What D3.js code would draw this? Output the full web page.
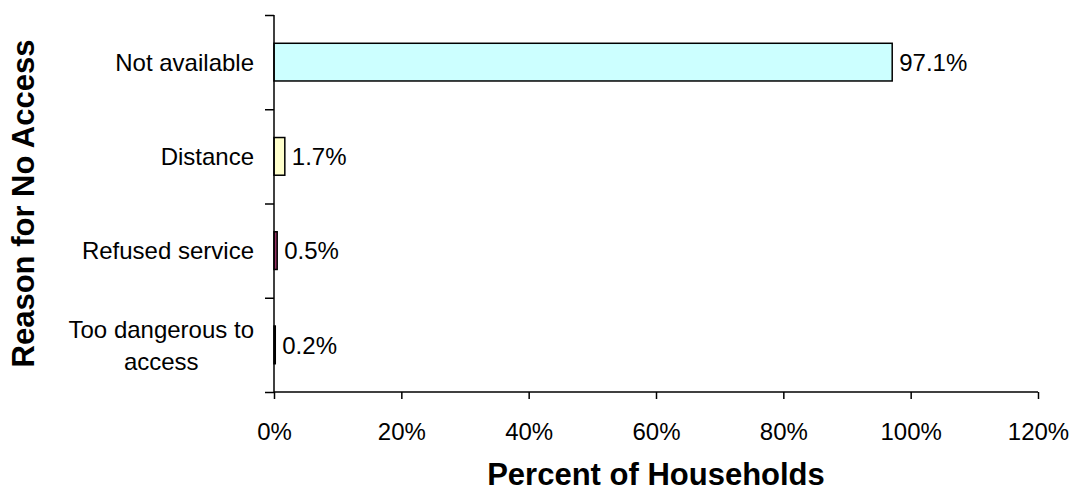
<!DOCTYPE html>
<html>
<head>
<meta charset="utf-8">
<script src="https://cdn.jsdelivr.net/npm/d3@7"></script>
<style>
    body { margin: 0; background: #fff; }
    text { font-family: "Liberation Sans", Arial, sans-serif; fill: #000; }
</style>
</head>
<body>
<svg id="chart" width="1073" height="493"></svg>
<script>
const categories = ["Not available", "Distance", "Refused service", "Too dangerous to access"]
const categoryLines = [["Not available"], ["Distance"], ["Refused service"], ["Too dangerous to", "access"]]
const values = [97.1, 1.7, 0.5, 0.2]
const barColors = ["#CCFFFF", "#FFFFCC", "#993366", "#9999FF"]
const xTicks = [0, 20, 40, 60, 80, 100, 120]

const svg = d3.select("#chart")
const plotLeft = 274, plotRight = 1038, plotTop = 15, plotBottom = 392
const fs = 24

const x = d3.scaleLinear().domain([0, 120]).range([plotLeft, plotRight])
const y = d3.scaleBand().domain(categories).range([plotTop, plotBottom]).padding(0)
const bw = y.bandwidth()

// bars (gap width 150% -> bar is 40% of the band)
svg.selectAll("rect.bar")
    .data(categories)
    .join("rect")
    .attr("class", "bar")
    .attr("x", x(0))
    .attr("y", d => y(d) + bw * 0.3)
    .attr("width", (d, i) => x(values[i]) - x(0))
    .attr("height", bw * 0.4)
    .attr("fill", (d, i) => barColors[i])
    .attr("stroke", "#000")
    .attr("stroke-width", 1.5)

// value labels
svg.selectAll("text.val")
    .data(categories)
    .join("text")
    .attr("class", "val")
    .attr("x", (d, i) => x(values[i]) + 7)
    .attr("y", d => y(d) + bw / 2)
    .attr("dy", "0.36em")
    .style("font-size", fs + "px")
    .text((d, i) => values[i].toFixed(1) + "%")

// x axis
const xAxis = svg.append("g")
    .attr("transform", `translate(0,${plotBottom})`)
    .call(d3.axisBottom(x).tickValues(xTicks).tickSize(7).tickPadding(24).tickFormat(d => d + "%"))
xAxis.select(".domain").attr("d", `M${plotLeft},0H${plotRight}`).attr("stroke-width", 1.5)
xAxis.selectAll(".tick line").attr("stroke-width", 1.5)
xAxis.selectAll(".tick text").style("font-size", fs + "px").style("font-family", "Liberation Sans, Arial, sans-serif")

// y axis, ticks between categories
const yIdx = d3.scaleLinear().domain([0, categories.length]).range([plotTop, plotBottom])
const yAxis = svg.append("g")
    .attr("transform", `translate(${plotLeft},0)`)
    .call(d3.axisLeft(yIdx).ticks(categories.length).tickSize(9).tickFormat(""))
yAxis.select(".domain").attr("d", `M0,${plotTop}V${plotBottom}`).attr("stroke-width", 1.5)
yAxis.selectAll(".tick line").attr("stroke-width", 1.5)

// category labels: right-aligned block, lines centred inside it
const lineH = 32
const labelRight = 254
svg.selectAll("text.cat")
    .data(categories)
    .join("text")
    .attr("class", "cat")
    .attr("text-anchor", "middle")
    .attr("y", d => y(d) + bw / 2)
    .style("font-size", fs + "px")
    .each(function (d, i) {
        const lines = categoryLines[i]
        const t = d3.select(this)
        t.selectAll("tspan")
            .data(lines)
            .join("tspan")
            .attr("dy", (l, j) => j === 0 ? `${0.36 * fs - (lines.length - 1) * lineH / 2}px` : `${lineH}px`)
            .text(l => l)
        const w = d3.max(t.selectAll("tspan").nodes(), n => n.getComputedTextLength())
        t.selectAll("tspan").attr("x", labelRight - w / 2)
    })

// axis titles, centred on the plot area
svg.append("text")
    .attr("x", (plotLeft + plotRight) / 2)
    .attr("y", 485)
    .attr("text-anchor", "middle")
    .style("font-size", "31px")
    .style("font-weight", "bold")
    .text("Percent of Households")

svg.append("text")
    .attr("transform", `translate(34,${(plotTop + plotBottom) / 2}) rotate(-90)`)
    .attr("text-anchor", "middle")
    .style("font-size", "31px")
    .style("font-weight", "bold")
    .text("Reason for No Access")
</script>
</body>
</html>
